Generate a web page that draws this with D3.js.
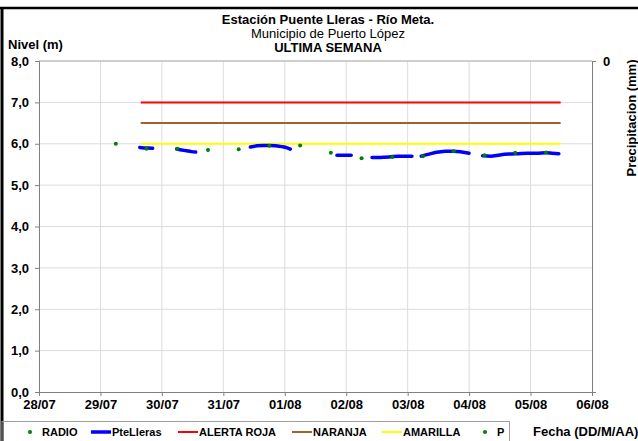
<!DOCTYPE html>
<html>
<head>
<meta charset="utf-8">
<script src="https://cdn.jsdelivr.net/npm/d3@7"></script>
<style>
  body { margin: 0; background: #fff; }
  svg text { font-family: "Liberation Sans", Arial, sans-serif; }
</style>
</head>
<body>
<svg id="chart" width="638" height="441"></svg>
<script>
// Day-of-series offsets (days after 28/07 00:00) and river level (m)
var radioDays = [1.25, 1.75, 2.25, 2.75, 3.25, 3.75, 4.25, 4.75, 5.25, 5.75, 6.25, 6.75, 7.25, 7.75, 8.25];
var radioLevel = [6.00, 5.88, 5.88, 5.85, 5.87, 5.95, 5.96, 5.78, 5.65, 5.68, 5.70, 5.82, 5.72, 5.78, 5.79];

// PteLleras sensor, separate runs with gaps between them
var sensorDays = [
    [1.64, 1.70, 1.76, 1.85],
    [2.24, 2.32, 2.40, 2.48, 2.55],
    [3.44, 3.55, 3.65, 3.75, 3.85, 3.95, 4.04, 4.09],
    [4.85, 4.95, 5.08],
    [5.42, 5.55, 5.70, 5.85, 5.95, 6.07],
    [6.22, 6.35, 6.50, 6.62, 6.75, 6.88, 7.00],
    [7.22, 7.35, 7.50, 7.65, 7.80, 7.95, 8.10, 8.25, 8.35, 8.46]
];
var sensorLevel = [
    [5.91, 5.90, 5.90, 5.89],
    [5.87, 5.85, 5.83, 5.81, 5.80],
    [5.92, 5.95, 5.96, 5.96, 5.95, 5.93, 5.90, 5.87],
    [5.72, 5.72, 5.72],
    [5.67, 5.67, 5.68, 5.70, 5.70, 5.70],
    [5.70, 5.75, 5.80, 5.82, 5.82, 5.80, 5.77],
    [5.71, 5.70, 5.73, 5.75, 5.76, 5.77, 5.77, 5.78, 5.77, 5.76]
];

// alert thresholds
var alertNames = ["ALERTA ROJA", "NARANJA", "AMARILLA"];
var alertLevel = [7.0, 6.5, 6.0];
var alertColor = ["#ff0000", "#a0622d", "#ffff00"];
var alertSpan = [1.656, 8.49];

var levelTicks = [0, 1, 2, 3, 4, 5, 6, 7, 8];
var dateTicks = ["28/07", "29/07", "30/07", "31/07", "01/08", "02/08", "03/08", "04/08", "05/08", "06/08"];

var start = new Date(2014, 6, 28);
function toDate(days) { return new Date(start.getTime() + days * 864e5); }

var svg = d3.select("#chart");

var x = d3.scaleTime()
    .domain([start, toDate(9)])
    .range([39, 592]);

var y = d3.scaleLinear()
    .domain([0, 8])
    .range([392, 61]);

// outer frame
svg.append("line").attr("x1", 0).attr("x2", 638).attr("y1", 8).attr("y2", 8)
    .attr("stroke", "#000").attr("stroke-width", 2.5);
svg.append("line").attr("x1", 2).attr("x2", 2).attr("y1", 8).attr("y2", 441)
    .attr("stroke", "#000").attr("stroke-width", 3);

// grid
var grid = svg.append("g").attr("class", "grid");
grid.selectAll(".hgrid").data(levelTicks.slice(1)).enter()
    .append("line")
    .attr("x1", 39).attr("x2", 592)
    .attr("y1", function (d) { return y(d); })
    .attr("y2", function (d) { return y(d); })
    .attr("stroke", "#dcdcdc").attr("stroke-width", 1);
grid.selectAll(".vgrid").data(d3.range(1, 9)).enter()
    .append("line")
    .attr("x1", function (d) { return x(toDate(d)); })
    .attr("x2", function (d) { return x(toDate(d)); })
    .attr("y1", 61).attr("y2", 392)
    .attr("stroke", "#dcdcdc").attr("stroke-width", 1);

// plot frame top
svg.append("line").attr("x1", 39).attr("x2", 592).attr("y1", 61).attr("y2", 61)
    .attr("stroke", "#b0b0b0").attr("stroke-width", 1);

function styleAxis(g) {
    g.select(".domain").attr("stroke", "#808080");
    g.selectAll(".tick line").attr("stroke", "#808080");
    g.selectAll("text").attr("font-size", 13).attr("font-weight", "bold")
        .attr("fill", "#000").attr("font-family", "Liberation Sans, Arial, sans-serif");
}

// left axis
var yAxis = d3.axisLeft(y)
    .tickValues(levelTicks)
    .tickSize(4)
    .tickFormat(function (d) { return d3.format(".1f")(d).replace(".", ","); });
var gy = svg.append("g").attr("transform", "translate(39,0)").call(yAxis);
styleAxis(gy);
gy.selectAll("text").attr("x", -10);

// bottom axis
var xAxis = d3.axisBottom(x)
    .tickValues(dateTicks.map(function (d, i) { return toDate(i); }))
    .tickSize(4)
    .tickFormat(function (d, i) { return dateTicks[i]; });
var gx = svg.append("g").attr("transform", "translate(0,392)").call(xAxis);
styleAxis(gx);
gx.selectAll("text").attr("y", 8);

// right axis (precipitation, only 0 shown)
var yRight = d3.scaleLinear().domain([0, 1]).range([61, 392]);
var gr = svg.append("g").attr("transform", "translate(592,0)")
    .call(d3.axisRight(yRight).tickValues([0]).tickSize(4).tickFormat(d3.format("d")));
styleAxis(gr);
gr.selectAll("text").attr("x", 11);

// alert lines
svg.append("g").selectAll("line").data(alertLevel).enter()
    .append("line")
    .attr("x1", x(toDate(alertSpan[0])))
    .attr("x2", x(toDate(alertSpan[1])))
    .attr("y1", function (d) { return y(d); })
    .attr("y2", function (d) { return y(d); })
    .attr("stroke", function (d, i) { return alertColor[i]; })
    .attr("stroke-width", 2);

// sensor line
var line = d3.line()
    .x(function (d) { return x(toDate(d[0])); })
    .y(function (d) { return y(d[1]); })
    .curve(d3.curveMonotoneX);
svg.append("g").selectAll("path")
    .data(sensorDays.map(function (days, i) {
        return days.map(function (t, j) { return [t, sensorLevel[i][j]]; });
    }))
    .enter().append("path")
    .attr("d", line)
    .attr("fill", "none")
    .attr("stroke", "#0000ff")
    .attr("stroke-width", 3.5)
    .attr("stroke-linecap", "round")
    .attr("stroke-linejoin", "round");

// radio points
svg.append("g").selectAll("circle").data(radioDays).enter()
    .append("circle")
    .attr("cx", function (d) { return x(toDate(d)); })
    .attr("cy", function (d, i) { return y(radioLevel[i]); })
    .attr("r", 2)
    .attr("fill", "#008000");

// titles
var titles = svg.append("g").attr("text-anchor", "middle").attr("fill", "#000");
titles.append("text").attr("x", 328).attr("y", 24).attr("font-size", 13)
    .attr("font-weight", "bold").text("Estación Puente Lleras - Río Meta.");
titles.append("text").attr("x", 328).attr("y", 38).attr("font-size", 13)
    .text("Municipio de Puerto López");
titles.append("text").attr("x", 328).attr("y", 52).attr("font-size", 13)
    .attr("font-weight", "bold").text("ULTIMA SEMANA");

svg.append("text").attr("x", 8).attr("y", 49).attr("font-size", 13)
    .attr("font-weight", "bold").text("Nivel (m)");
svg.append("text")
    .attr("transform", "translate(636,118) rotate(-90)")
    .attr("text-anchor", "middle")
    .attr("font-size", 13).attr("font-weight", "bold")
    .text("Precipitacion (mm)");
svg.append("text").attr("x", 533).attr("y", 436).attr("font-size", 13)
    .attr("font-weight", "bold").text("Fecha (DD/M/AA)");

// legend
var legend = svg.append("g");
legend.append("rect").attr("x", 2).attr("y", 421.5).attr("width", 507.5).attr("height", 30)
    .attr("fill", "none").attr("stroke", "#a0a0a0").attr("stroke-width", 1);

var legendItems = [
    { name: "RADIO", kind: "dot", color: "#008000", x: 30 },
    { name: "PteLleras", kind: "line", color: "#0000ff", x: 91, w: 3.5 },
    { name: alertNames[0], kind: "line", color: alertColor[0], x: 178, w: 2 },
    { name: alertNames[1], kind: "line", color: alertColor[1], x: 292, w: 2 },
    { name: alertNames[2], kind: "line", color: alertColor[2], x: 382, w: 2 },
    { name: "P", kind: "dot", color: "#008000", x: 485 }
];
var li = legend.selectAll(".item").data(legendItems).enter().append("g");
li.each(function (d) {
    var g = d3.select(this);
    if (d.kind === "dot") {
        g.append("circle").attr("cx", d.x).attr("cy", 432).attr("r", 2).attr("fill", d.color);
        g.append("text").attr("x", d.x + 12).attr("y", 436).attr("font-size", 11)
            .attr("font-weight", "bold").text(d.name);
    } else {
        g.append("line").attr("x1", d.x).attr("x2", d.x + 20).attr("y1", 432).attr("y2", 432)
            .attr("stroke", d.color).attr("stroke-width", d.w);
        g.append("text").attr("x", d.x + 21).attr("y", 436).attr("font-size", 11)
            .attr("font-weight", "bold").text(d.name);
    }
});
</script>
</body>
</html>
